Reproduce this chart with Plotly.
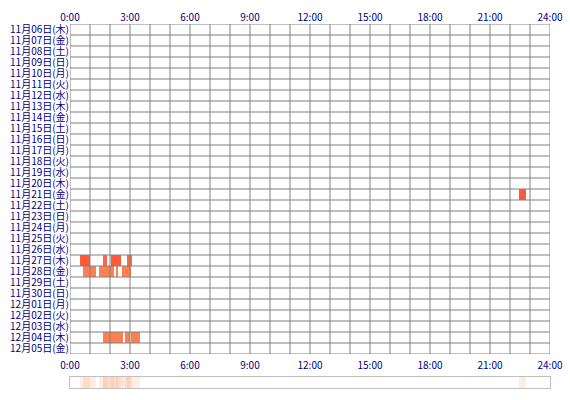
import plotly.graph_objects as go

# day rows (top to bottom)
days = [
    "11月06日(木)", "11月07日(金)", "11月08日(土)", "11月09日(日)", "11月10日(月)",
    "11月11日(火)", "11月12日(水)", "11月13日(木)", "11月14日(金)", "11月15日(土)",
    "11月16日(日)", "11月17日(月)", "11月18日(火)", "11月19日(水)", "11月20日(木)",
    "11月21日(金)", "11月22日(土)", "11月23日(日)", "11月24日(月)", "11月25日(火)",
    "11月26日(水)", "11月27日(木)", "11月28日(金)", "11月29日(土)", "11月30日(日)",
    "12月01日(月)", "12月02日(火)", "12月03日(水)", "12月04日(木)", "12月05日(金)",
]
hour_ticks = [0, 3, 6, 9, 12, 15, 18, 21, 24]
hour_labels = ["0:00", "3:00", "6:00", "9:00", "12:00", "15:00", "18:00", "21:00", "24:00"]

# activity segments: row index, start hour, end hour, intensity level
seg_day = [15, 21, 21, 21, 21, 22, 22, 22, 22, 28, 28, 28]
seg_start = [22.45, 0.5, 1.65, 2.05, 2.85, 0.65, 1.45, 2.3, 2.6, 1.65, 2.75, 3.05]
seg_end = [22.8, 1.0, 1.85, 2.55, 3.1, 1.3, 2.2, 2.4, 3.05, 2.65, 3.0, 3.5]
seg_level = [3, 3, 2, 3, 2, 1, 1, 1, 1, 1, 1, 1]

NAVY = "#000080"
GRID = "#808080"
FONT = "Noto Sans CJK JP"

n_rows = len(days)
dur = [e - s for s, e in zip(seg_start, seg_end)]
rows_y = [d + 0.5 for d in seg_day]

fig = go.Figure()
fig.add_trace(go.Bar(
    orientation="h", y=rows_y, x=dur, base=seg_start, width=1,
    marker=dict(color=seg_level, cmin=1, cmax=3,
                colorscale=[[0, "#FF7F50"], [0.5, "#FF6A45"], [1, "#FF5A3C"]],
                line=dict(width=0)),
    hoverinfo="skip", showlegend=False, xaxis="x", yaxis="y",
))
# summary strip: every segment layered with low opacity
fig.add_trace(go.Bar(
    orientation="h", y=[0.5] * len(dur), x=dur, base=seg_start, width=1,
    marker=dict(color="#FFA070", opacity=0.2, line=dict(width=0)),
    hoverinfo="skip", showlegend=False, xaxis="x2", yaxis="y2",
))

# grid drawn above the bars, as in the original
shapes = []
for h in range(25):
    shapes.append(dict(type="line", xref="x", yref="y", x0=h, x1=h, y0=0, y1=n_rows,
                       line=dict(color=GRID, width=1), layer="above"))
for r in range(n_rows + 1):
    shapes.append(dict(type="line", xref="x", yref="y", x0=0, x1=24, y0=r, y1=r,
                       line=dict(color=GRID, width=1), layer="above"))

H = 400
t, b = 24, 12
ph = H - t - b
fig.update_layout(
    width=570, height=H,
    margin=dict(l=70, r=20, t=t, b=b, autoexpand=False),
    paper_bgcolor="white", plot_bgcolor="white",
    font=dict(family=FONT, size=10, color=NAVY),
    barmode="overlay", shapes=shapes, showlegend=False,
    xaxis=dict(range=[0, 24], side="top", tickvals=hour_ticks, ticktext=hour_labels,
               showgrid=False, zeroline=False, ticks="", anchor="y", automargin=False,
               tickfont=dict(size=10, color=NAVY)),
    yaxis=dict(range=[n_rows, 0], domain=[34 / ph, 1], automargin=False,
               tickvals=[i + 0.5 for i in range(n_rows)], ticktext=days,
               showgrid=False, zeroline=False, ticks="", anchor="x",
               tickfont=dict(size=10, color=NAVY)),
    xaxis2=dict(range=[0, 24], side="top", tickvals=hour_ticks, ticktext=hour_labels,
                showgrid=False, zeroline=False, anchor="y2", automargin=False,
                ticks="outside", ticklen=3, tickcolor="rgba(0,0,0,0)",
                showline=True, mirror=True, linecolor="#C0C0C0", linewidth=1,
                tickfont=dict(size=10, color=NAVY)),
    yaxis2=dict(range=[0, 1], domain=[0, 11 / ph], showticklabels=False, automargin=False,
                showgrid=False, zeroline=False, anchor="x2",
                showline=True, mirror=True, linecolor="#C0C0C0", linewidth=1),
)

fig.write_html("out.html", config={"displayModeBar": False},
               post_script="document.body.style.margin='0';")
